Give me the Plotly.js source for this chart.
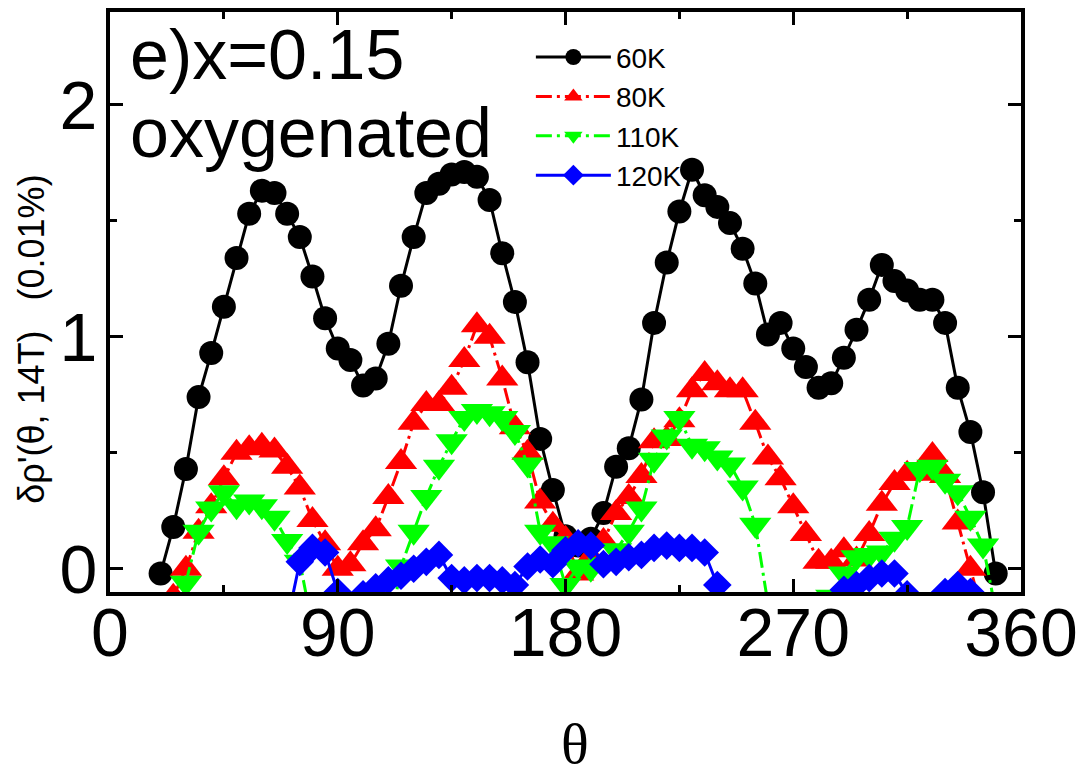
<!DOCTYPE html>
<html>
<head>
<meta charset="utf-8">
<script src="https://cdn.plot.ly/plotly-3.0.1.min.js"></script>
<style>
  html, body { margin: 0; padding: 0; background: #fff; }
  #chart { width: 1083px; height: 776px; }
</style>
</head>
<body>
<div id="chart"></div>
<script>
// Field-angle dependence of the magnetoresistance anisotropy, x = 0.15 oxygenated sample.
// Angles in degrees; values in units of 0.01%. null marks a gap where the curve leaves the window.

const theta60 = [20, 25, 30, 35, 40, 45, 50, 55, 60, 65, 70, 75, 80, 85, 90, 95, 100, 105, 110, 115,
                 120, 125, 130, 135, 140, 145, 150, 155, 160, 165, 170, 175, 180, 185, 190, 195, 200, 205, 210, 215,
                 220, 225, 230, 235, 240, 245, 250, 255, 260, 265, 270, 275, 280, 285, 290, 295, 300, 305, 310, 315,
                 320, 325, 330, 335, 340, 345, 350];
const rho60 = [-0.02, 0.18, 0.43, 0.74, 0.93, 1.13, 1.34, 1.53, 1.63, 1.62, 1.53, 1.43, 1.26, 1.08, 0.95, 0.90, 0.79, 0.82, 0.97, 1.22,
               1.43, 1.62, 1.66, 1.70, 1.71, 1.69, 1.59, 1.36, 1.15, 0.89, 0.56, 0.34, 0.14, 0.10, 0.13, 0.24, 0.44, 0.52, 0.73, 1.06,
               1.32, 1.54, 1.72, 1.61, 1.56, 1.49, 1.38, 1.23, 1.01, 1.06, 0.95, 0.87, 0.78, 0.80, 0.91, 1.03, 1.16, 1.31, 1.24, 1.20,
               1.16, 1.16, 1.06, 0.78, 0.59, 0.33, -0.02];

const theta80 = [25, 30, 35, 40, 45, 50, 55, 60, 65, 70, 75, 80, 85, 90, 95, 100, 105, 110, 115, 120,
                 125, 130, 135, 140, 145, 150, 155, 160, 165, 170, 175, 180, 185, 190, 195, 200, 205, 210, 215, 220,
                 225, 230, 235, 240, 245, 250, 255, 260, 265, 270, 275, 280, 285, 290, 295, 300, 305, 310, 315, 320,
                 325, 330, 335, 340, 345];
const rho80 = [-0.12, 0.00, 0.16, 0.27, 0.39, 0.50, 0.52, 0.53, 0.51, 0.44, 0.35, 0.21, 0.11, 0.00, 0.02, 0.11, 0.17, 0.31, 0.46, 0.63,
               0.71, 0.71, 0.78, 0.90, 1.05, 1.00, 0.82, 0.61, 0.50, 0.29, 0.19, 0.13, -0.02, 0.05, 0.12, 0.24, 0.31, 0.40, 0.55, 0.56,
               0.64, 0.77, 0.84, 0.80, 0.77, 0.77, 0.63, 0.48, 0.39, 0.27, 0.15, 0.03, 0.03, 0.08, 0.04, 0.15, 0.28, 0.37, 0.41, 0.41,
               0.49, 0.40, 0.20, 0.00, -0.20];

const theta110 = [30, 35, 40, 45, 50, 55, 60, 65, 70, 75, 80, null, 110, 115, 120, 125, 130, 135, 140, 145,
                  150, 155, 160, 165, 170, 175, 180, 185, 190, 195, 200, 205, 210, 215, 220, 225, 230, 235, 240, 245,
                  250, 255, 260, null, 285, 290, 295, 300, 305, 310, 315, 320, 325, 330, 335, 340, 345, 350];
const rho110 = [-0.06, 0.16, 0.26, 0.33, 0.27, 0.29, 0.27, 0.22, 0.12, 0.03, -0.25, null, -0.30, 0.01, 0.16, 0.31, 0.44, 0.55, 0.65, 0.68,
                0.67, 0.65, 0.59, 0.45, 0.16, 0.11, -0.07, 0.01, 0.00, 0.02, 0.08, 0.16, 0.26, 0.47, 0.57, 0.65, 0.53, 0.52, 0.48, 0.45,
                0.35, 0.19, -0.15, null, -0.12, -0.02, 0.05, 0.06, 0.07, 0.13, 0.18, 0.43, 0.44, 0.38, 0.33, 0.22, 0.10, -0.18];

const theta120 = [70, 75, 80, 85, 90, null, 100, 105, 110, 115, 120, 125, 130, 135, 140, 145, 150, 155, 160, 165,
                  170, 175, 180, 185, 190, 195, 200, 205, 210, 215, 220, 225, 230, 235, 240, null, 290, 295, 300, 305,
                  310, 315, null, 330, 335, 340];
const rho120 = [-0.23, 0.03, 0.09, 0.07, -0.10, null, -0.11, -0.08, -0.05, -0.03, 0.00, 0.03, 0.06, -0.04, -0.05, -0.04, -0.04, -0.05, -0.07, 0.01,
                0.04, 0.02, 0.08, 0.11, 0.10, 0.02, 0.03, 0.05, 0.06, 0.09, 0.10, 0.09, 0.09, 0.07, -0.07, null, -0.09, -0.07, -0.04, -0.02,
                -0.02, -0.11, null, -0.10, -0.07, -0.10];

const seriesNames = ['60K', '80K', '110K', '120K'];
const xTicks = [0, 90, 180, 270, 360];
const yTicks = [0, 1, 2];

const sans = 'Liberation Sans, Arial, Helvetica, sans-serif';
const serif = 'Liberation Serif, Times New Roman, serif';
const dashDot = '16px,5px,3px,5px';

const traces = [
  {
    x: theta60, y: rho60, name: seriesNames[0], type: 'scatter', mode: 'lines+markers',
    line: { color: '#000000', width: 3 },
    marker: { symbol: 'circle', size: 24, color: '#000000' }
  },
  {
    x: theta80, y: rho80, name: seriesNames[1], type: 'scatter', mode: 'lines+markers',
    line: { color: '#ff0000', width: 3, dash: dashDot },
    marker: { symbol: 'triangle-up', size: 28, color: '#ff0000' }
  },
  {
    x: theta110, y: rho110, name: seriesNames[2], type: 'scatter', mode: 'lines+markers',
    line: { color: '#00ff00', width: 3, dash: dashDot },
    marker: { symbol: 'triangle-down', size: 28, color: '#00ff00' }
  },
  {
    x: theta120, y: rho120, name: seriesNames[3], type: 'scatter', mode: 'lines+markers',
    line: { color: '#0000ff', width: 3 },
    marker: { symbol: 'diamond', size: 22, color: '#0000ff' }
  }
];

const axisCommon = {
  showgrid: false, zeroline: false,
  showline: true, linecolor: '#000', linewidth: 4, mirror: 'ticks',
  ticks: 'inside', ticklen: 13, tickwidth: 3, tickcolor: '#000',
  tickfont: { family: sans, size: 68, color: '#000' }
};

const layout = {
  width: 1083, height: 776,
  paper_bgcolor: '#fff', plot_bgcolor: '#fff',
  margin: { l: 110, r: 62, t: 12, b: 184, pad: 0 },
  showlegend: true,
  legend: {
    x: 0.462, y: 0.965, xanchor: 'left', yanchor: 'top',
    bgcolor: 'rgba(0,0,0,0)', borderwidth: 0,
    itemwidth: 75,
    font: { family: sans, size: 28, color: '#000' }
  },
  xaxis: Object.assign({}, axisCommon, {
    range: [0, 360], tickmode: 'array', tickvals: xTicks, ticktext: xTicks.map(String),
    ticklabelstandoff: -22,
    minor: { tickmode: 'linear', tick0: 0, dtick: 45, ticks: 'inside', ticklen: 7, tickwidth: 3, tickcolor: '#000' }
  }),
  yaxis: Object.assign({}, axisCommon, {
    range: [-0.1, 2.4], tickmode: 'array', tickvals: yTicks, ticktext: yTicks.map(String),
    ticklabelstandoff: -5,
    minor: { tickmode: 'linear', tick0: 0, dtick: 0.5, ticks: 'inside', ticklen: 7, tickwidth: 3, tickcolor: '#000' }
  }),
  annotations: [
    { xref: 'paper', yref: 'paper', x: 0.02, y: 0.926, xanchor: 'left', yanchor: 'middle',
      text: 'e)x=0.15', showarrow: false, font: { family: sans, size: 70, color: '#000' } },
    { xref: 'paper', yref: 'paper', x: 0.02, y: 0.792, xanchor: 'left', yanchor: 'middle',
      text: 'oxygenated', showarrow: false, font: { family: sans, size: 70, color: '#000' } },
    { xref: 'paper', yref: 'paper', x: -0.087, y: 0.436, xanchor: 'center', yanchor: 'middle',
      textangle: -90, text: "\u03b4\u03c1'(\u03b8, 14T)\u00a0\u00a0\u00a0(0.01%)", showarrow: false,
      font: { family: sans, size: 36, color: '#000' } },
    { xref: 'paper', yref: 'paper', x: 0.51, y: -0.262, xanchor: 'center', yanchor: 'middle',
      text: '\u03b8', showarrow: false, font: { family: serif, size: 58, color: '#000' } }
  ]
};

Plotly.newPlot('chart', traces, layout, { displayModeBar: false, staticPlot: true });
</script>
</body>
</html>
